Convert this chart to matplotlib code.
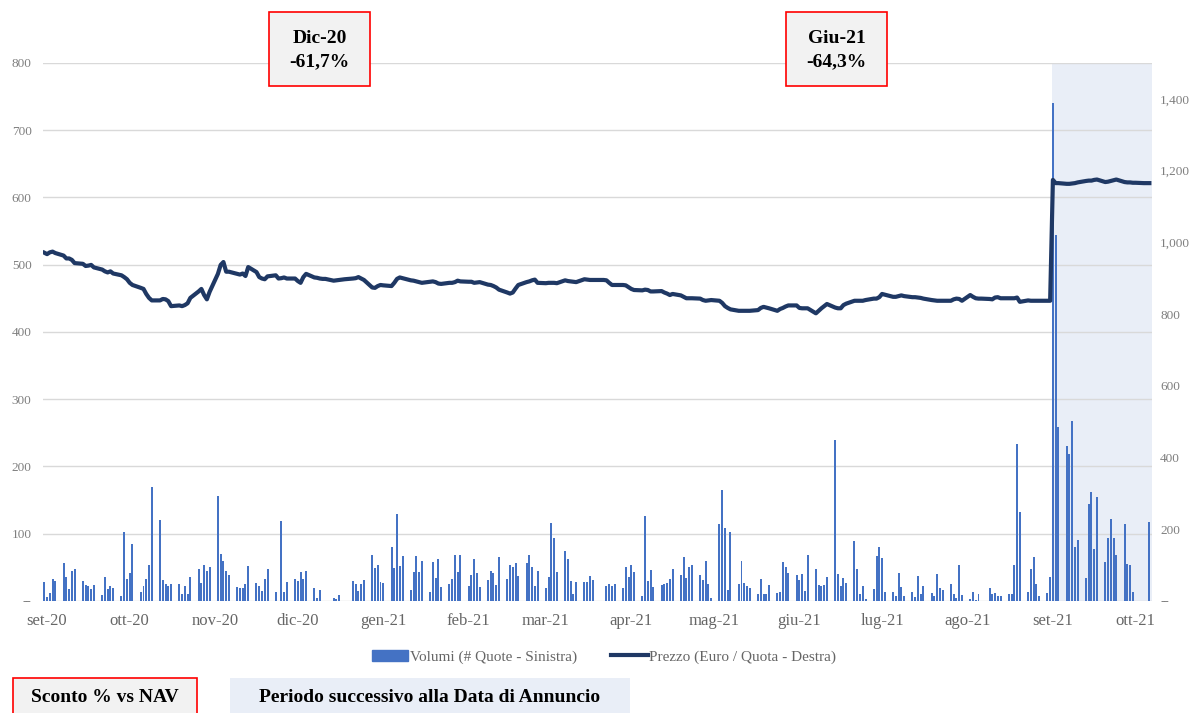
import pandas as pd
import matplotlib
matplotlib.use("Agg")
import matplotlib.pyplot as plt
import matplotlib.dates as mdates
from matplotlib.patches import Patch, Rectangle
from matplotlib.lines import Line2D

plt.rcParams['font.family'] = ['Liberation Serif', 'DejaVu Serif']

# volumi giornalieri (# quote) - una riga = una settimana lun-ven, 0 = nessuno scambio
volumi = [
    28, 6, 12, 32, 29,
    57, 36, 18, 45, 47,
    30, 24, 23, 18, 24,
    9, 35, 18, 22, 20,
    8, 102, 33, 41, 85,
    14, 23, 33, 54, 170,
    121, 31, 25, 23, 26,
    26, 11, 22, 11, 35,
    47, 27, 53, 44, 51,
    156, 70, 59, 45, 39,
    21, 20, 19, 25, 52,
    27, 23, 15, 33, 47,
    14, 0, 119, 13, 28,
    33, 29, 43, 33, 45,
    19, 5, 17, 0, 0,
    4, 3, 9, 0, 0,
    29, 25, 15, 25, 31,
    68, 49, 53, 28, 27,
    80, 49, 129, 52, 67,
    16, 43, 67, 43, 60,
    14, 58, 34, 63, 21,
    25, 33, 68, 43, 68,
    22, 39, 62, 42, 21,
    31, 45, 41, 24, 65,
    32, 53, 50, 56, 37,
    57, 69, 50, 23, 44,
    19, 35, 116, 93, 43,
    75, 62, 29, 11, 28,
    28, 28, 37, 31, 0,
    0, 23, 26, 23, 25,
    19, 51, 35, 54, 43,
    7, 126, 29, 46, 21,
    24, 25, 27, 33, 48,
    39, 65, 34, 50, 54,
    39, 31, 60, 25, 4,
    115, 165, 108, 17, 102,
    26, 59, 27, 23, 20,
    10, 32, 11, 11, 24,
    12, 13, 58, 50, 42,
    39, 31, 40, 15, 69,
    48, 24, 23, 24, 35,
    239, 40, 22, 34, 27,
    89, 48, 11, 22, 3,
    18, 67, 81, 64, 14,
    14, 7, 42, 21, 8,
    13, 6, 37, 10, 22,
    12, 8, 40, 19, 16,
    26, 10, 4, 54, 9,
    3, 13, 1, 11, 0,
    19, 11, 12, 7, 7,
    11, 10, 54, 233, 132,
    13, 47, 65, 26, 8,
    12, 36, 740, 544, 259,
    231, 218, 267, 80, 91,
    34, 144, 162, 78, 155,
    58, 94, 122, 93, 68,
    115, 55, 53, 13, 0,
    0, 0, 117,
]

# prezzo (euro / quota), stesse giornate
prezzo = [
    971, 967, 972, 974, 970,
    963, 955, 955, 951, 942,
    940, 934, 935, 937, 930,
    924, 919, 916, 919, 913,
    908, 903, 897, 887, 881,
    873, 870, 856, 845, 838,
    838, 842, 841, 836, 822,
    824, 822, 825, 830, 845,
    863, 870, 853, 841, 862,
    912, 937, 945, 918, 918,
    912, 910, 913, 906, 931,
    917, 903, 899, 897, 905,
    908, 899, 900, 902, 899,
    899, 892, 887, 903, 912,
    902, 901, 899, 898, 898,
    893, 894, 895, 896, 897,
    899, 900, 903, 899, 895,
    874, 873, 878, 881, 880,
    878, 887, 898, 902, 900,
    894, 893, 891, 889, 887,
    890, 891, 889, 885, 884,
    887, 887, 889, 893, 891,
    890, 890, 887, 888, 889,
    882, 881, 878, 874, 868,
    860, 857, 860, 871, 881,
    889, 891, 894, 896, 887,
    886, 887, 887, 887, 886,
    894, 892, 891, 890, 889,
    897, 896, 895, 895, 895,
    895, 894, 887, 881, 881,
    881, 880, 875, 870, 867,
    866, 868, 867, 863, 863,
    864, 860, 857, 853, 856,
    852, 848, 844, 844, 844,
    843, 839, 837, 838, 839,
    837, 831, 822, 817, 813,
    809, 809, 809, 809, 809,
    811, 817, 820, 818, 816,
    809, 814, 817, 821, 824,
    824, 817, 816, 816, 816,
    802, 809, 816, 822, 828,
    818, 816, 816, 825, 829,
    837, 837, 837, 837, 839,
    843, 843, 847, 856, 854,
    848, 848, 850, 852, 850,
    847, 847, 846, 845, 843,
    839, 838, 837, 837, 837,
    837, 841, 843, 842, 837,
    853, 848, 844, 843, 843,
    842, 841, 846, 847, 844,
    844, 844, 844, 846, 834,
    838, 837, 837, 837, 837,
    837, 837, 1174, 1165, 1165,
    1163, 1163, 1164, 1165, 1167,
    1171, 1172, 1172, 1174, 1175,
    1168, 1169, 1171, 1173, 1175,
    1168, 1167, 1167, 1166, 1166,
    1165, 1165, 1165,
]

mesi = ["set-20", "ott-20", "nov-20", "dic-20", "gen-21", "feb-21", "mar-21",
        "apr-21", "mag-21", "giu-21", "lug-21", "ago-21", "set-21", "ott-21"]
inizio_mesi = pd.date_range("2020-09-01", periods=len(mesi), freq="MS")

giorni = pd.bdate_range("2020-08-31", periods=len(volumi))
data_annuncio = pd.Timestamp("2021-08-31 12:00")

blu = '#4472c4'
navy = '#1f3864'
grigio = '#7f7f7f'

fig = plt.figure(figsize=(11.96, 7.13), dpi=100)
ax = fig.add_axes([0.0357, 0.1571, 0.9273, 0.7546])
ax2 = ax.twinx()

x0 = mdates.date2num(giorni[0]) - 0.58
x1 = mdates.date2num(giorni[-1]) + 0.87

# periodo successivo all'annuncio
ax.axvspan(data_annuncio, mdates.num2date(x1), color='#e9eef7', lw=0, zorder=0)

ax.bar(giorni, volumi, width=0.72, color=blu, zorder=2)
ax2.plot(giorni, prezzo, color=navy, lw=3.0, solid_joinstyle='round')

ax.set_xlim(x0, x1)
ax.set_ylim(0, 800)
ax2.set_ylim(0, 1500)

ax.set_axisbelow(True)
ax.yaxis.grid(True, color='#d9d9d9', lw=1)

ax.set_yticks(range(0, 801, 100))
ax.set_yticklabels(["--"] + [str(v) for v in range(100, 801, 100)])
ax2.set_yticks(range(0, 1401, 200))
ax2.set_yticklabels(["--"] + [f"{v:,}" for v in range(200, 1401, 200)])
ax.set_xticks(inizio_mesi)
ax.set_xticklabels(mesi)

for a in (ax, ax2):
    for s in a.spines.values():
        s.set_visible(False)
ax.tick_params(axis='y', length=0, pad=8, labelsize=9.5, labelcolor=grigio)
ax2.tick_params(axis='y', length=0, pad=6, labelsize=9.5, labelcolor=grigio)
ax.tick_params(axis='x', length=0, pad=9, labelsize=12, labelcolor='#666666')

# legenda
handles = [Patch(color=blu), Line2D([0], [0], color=navy, lw=3)]
labels = ["Volumi (# Quote - Sinistra)", "Prezzo (Euro / Quota - Destra)"]
fig.legend(handles, labels, loc='center', bbox_to_anchor=(604 / 1196, 1 - 657 / 713),
           ncol=2, frameon=False, fontsize=11, labelcolor='#666666',
           handlelength=2.4, handletextpad=0.12, columnspacing=2.2)

W, H = 1196, 713


def box(x, y, w, h, testo, face, edge, size, cy=None):
    fig.patches.append(Rectangle((x / W, 1 - (y + h) / H), w / W, h / H,
                                 transform=fig.transFigure, facecolor=face,
                                 edgecolor=edge, lw=1.2 if edge != 'none' else 0,
                                 zorder=5))
    if cy is None:
        cy = y + h / 2
    t = fig.text((x + w / 2) / W, 1 - cy / H, testo, ha='center', va='center',
                 fontsize=size, fontweight='bold', color='black', linespacing=1.45)
    t.set_zorder(6)


# sconto % vs NAV
box(269, 12, 101, 74, "Dic-20\n-61,7%", '#f2f2f2', '#ff0000', 14, cy=50)
box(786, 12, 101, 74, "Giu-21\n-64,3%", '#f2f2f2', '#ff0000', 14, cy=50)

box(13, 678, 184, 40, "Sconto % vs NAV", '#f2f2f2', '#ff0000', 14, cy=698)
box(230, 678, 400, 40, "Periodo successivo alla Data di Annuncio", '#e9eef7', 'none', 14, cy=698)

fig.savefig("out.png", dpi=100)
